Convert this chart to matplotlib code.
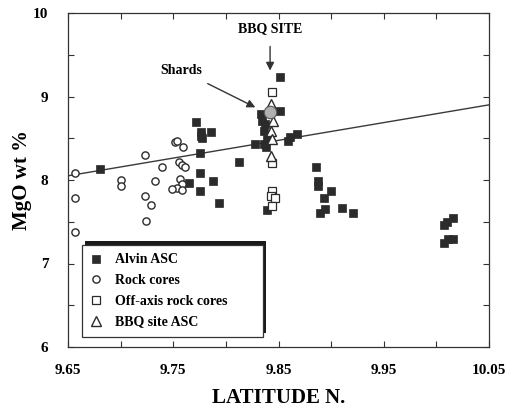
import numpy as np
import matplotlib
matplotlib.use("Agg")
import matplotlib.pyplot as plt
from matplotlib.patches import Rectangle

plt.rcParams['font.family'] = ['Liberation Serif', 'DejaVu Serif']
plt.rcParams['font.weight'] = 'bold'

# Alvin ASC (filled squares)
alvin_lat = [9.680, 9.772, 9.776, 9.776, 9.777, 9.786, 9.775, 9.812, 9.775, 9.788,
             9.765, 9.775, 9.793, 9.828, 9.851, 9.851, 9.833, 9.834, 9.837, 9.836,
             9.839, 9.836, 9.838, 9.861, 9.868, 9.859, 9.839, 9.886, 9.888, 9.888,
             9.900, 9.893, 9.894, 9.889, 9.910, 9.921, 10.010, 10.007, 10.016,
             10.007, 10.011, 10.016]
alvin_mgo = [8.13, 8.70, 8.57, 8.53, 8.50, 8.57, 8.32, 8.21, 8.08, 7.99,
             7.96, 7.87, 7.72, 8.43, 9.23, 8.83, 8.79, 8.71, 8.67, 8.59,
             8.49, 8.43, 8.39, 8.51, 8.55, 8.47, 7.64, 8.15, 7.99, 7.93,
             7.87, 7.78, 7.65, 7.61, 7.66, 7.61, 7.50, 7.46, 7.55,
             7.25, 7.29, 7.29]

# rock cores (open circles)
core_lat = [9.657, 9.657, 9.657, 9.700, 9.700, 9.7235, 9.739, 9.733, 9.7235, 9.729,
            9.724, 9.752, 9.754, 9.759, 9.755, 9.758, 9.761, 9.756, 9.758, 9.754,
            9.749, 9.758]
core_mgo = [8.08, 7.78, 7.38, 8.00, 7.93, 8.30, 8.16, 7.99, 7.81, 7.70,
            7.51, 8.45, 8.47, 8.40, 8.21, 8.18, 8.16, 8.01, 7.95, 7.91,
            7.89, 7.88]

# off-axis rock cores (open squares)
offaxis_lat = [9.8435, 9.844, 9.844, 9.843, 9.847, 9.844]
offaxis_mgo = [9.05, 8.20, 7.87, 7.81, 7.78, 7.69]

# BBQ site ASC (open triangles)
bbq_lat = [9.843, 9.845, 9.843, 9.844, 9.843]
bbq_mgo = [8.91, 8.71, 8.59, 8.49, 8.29]

# shards
shard_lat = [9.842]
shard_mgo = [8.81]

# trend line
fit_lat = [9.65, 10.05]
fit_mgo = [8.05, 8.90]

fig = plt.figure(figsize=(5.10, 4.09), dpi=100)
ax = fig.add_axes([68/510, 62/409, 421/510, 334/409])

dk = '#2b2b2b'
ax.plot(fit_lat, fit_mgo, color='#3a3a3a', lw=1.0, zorder=2)
h1, = ax.plot(alvin_lat, alvin_mgo, 's', ms=5.6, mfc=dk, mec=dk, mew=0.5,
              ls='none', zorder=3, label='Alvin ASC')
h2, = ax.plot(core_lat, core_mgo, 'o', ms=5.2, mfc='white', mec=dk, mew=1.0,
              ls='none', zorder=3, label='Rock cores')
h3, = ax.plot(offaxis_lat, offaxis_mgo, 's', ms=5.2, mfc='white', mec=dk, mew=0.9,
              ls='none', zorder=4, label='Off-axis rock cores')
h4, = ax.plot(bbq_lat, bbq_mgo, '^', ms=7.5, mfc='white', mec=dk, mew=1.0,
              ls='none', zorder=5, label='BBQ site ASC')
ax.plot(shard_lat, shard_mgo, 'o', ms=9, mfc='#b0b0b0', mec='#555555', mew=0.8,
        ls='none', zorder=6)

ax.set_xlim(9.65, 10.05)
ax.set_ylim(6, 10)
ax.set_xticks([9.65, 9.75, 9.85, 9.95, 10.05])
ax.set_xticklabels(['9.65', '9.75', '9.85', '9.95', '10.05'])
ax.set_xticks(np.arange(9.70, 10.05, 0.1), minor=True)
ax.set_yticks([6, 7, 8, 9, 10])
ax.set_yticks([6.5, 7.5, 8.5, 9.5], minor=True)
ax.tick_params(which='both', direction='in', top=True, right=True,
               length=4, width=0.8, color='#333333', labelsize=11)
ax.tick_params(axis='x', pad=12)
ax.tick_params(axis='y', pad=14)
for s in ax.spines.values():
    s.set_linewidth(0.9)
    s.set_color('#333333')

ax.set_xlabel('LATITUDE N.', fontsize=15, fontweight='bold', labelpad=8)
ax.set_ylabel('MgO wt %', fontsize=15, fontweight='bold', labelpad=1)

ax.annotate('BBQ SITE', xy=(9.842, 9.31), xytext=(9.842, 9.81),
            ha='center', va='center', fontsize=10, fontweight='bold',
            arrowprops=dict(arrowstyle='-|>', color='#333333', lw=1.0,
                            mutation_scale=12, shrinkA=6, shrinkB=0))
ax.annotate('Shards', xy=(9.828, 8.87), xytext=(9.758, 9.31),
            ha='center', va='center', fontsize=10, fontweight='bold',
            arrowprops=dict(arrowstyle='-|>', color='#333333', lw=1.0,
                            mutation_scale=12, shrinkA=6, shrinkB=0))

leg = ax.legend(handles=[h1, h2, h3, h4], loc='lower left',
                bbox_to_anchor=(0.0325, 0.03, 0.43, 0.28), mode='expand',
                fancybox=False, edgecolor='#333333', framealpha=1,
                fontsize=10, handlelength=0.8, handletextpad=1.0,
                labelspacing=0.55, borderpad=0.62, borderaxespad=0)
leg.get_frame().set_linewidth(0.9)
leg.set_zorder(10)

# up-right drop shadow behind the legend box
fig.canvas.draw()
bb = leg.get_window_extent().transformed(fig.transFigure.inverted())
shadow = Rectangle((bb.x0 + 3/510, bb.y0 + 4/409), bb.width, bb.height,
                   transform=fig.transFigure, facecolor='#1a1a1a',
                   edgecolor='none', zorder=9)
ax.add_artist(shadow)
shadow.set_clip_on(False)

fig.savefig('out.png', dpi=100)
